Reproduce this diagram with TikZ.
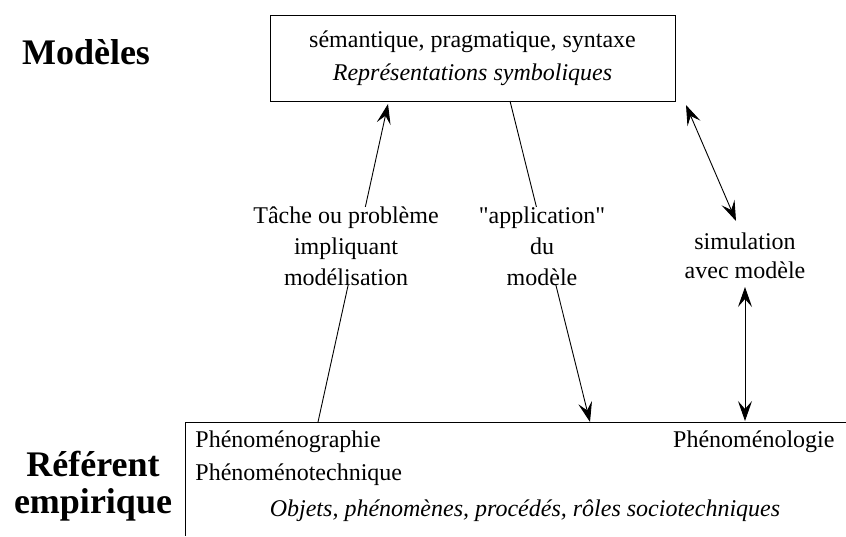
\documentclass[tikz,border=0pt]{standalone}
\usepackage{fontspec}
\setmainfont{Liberation Serif}[Ligatures=TeXOff]
\usetikzlibrary{arrows.meta,positioning}

\begin{document}
\begin{tikzpicture}[x=1pt,y=-1pt,line width=0.9pt,
  every node/.style={font=\fontsize{24}{31}\selectfont, inner sep=0pt},
  head/.style={font=\fontsize{36}{37}\selectfont\bfseries, align=center},
  lbl/.style={align=center, fill=white, inner sep=0pt},
  hd/.tip={Stealth[length=20pt,width=14pt,inset=8pt]},
  tip/.style={-hd}, dbl/.style={hd-hd}]
\useasboundingbox (0,0) rectangle (846,536);

\node[head] (mod) at (86,52) {Modèles};
\node[head] (emp) at (93,486) {Référent\\empirique};

\node[draw, minimum width=405pt, minimum height=86pt, align=center,
  font=\fontsize{24}{33}\selectfont] (sym) at (472.5,58)
  {sémantique, pragmatique, syntaxe\\\textit{Représentations symboliques}};

% referent (open frame)
\draw (846,422) -- (185,422) -- (185,536);
\node[anchor=west] (graph) at (195,442) {Phénoménographie};
\node[anchor=west] (tech) at (195,475) {Phénoménotechnique};
\node[anchor=east] (logie) at (835,442) {Phénoménologie};
\node[font=\fontsize{24}{31}\selectfont\itshape] (obj) at (525,511)
  {Objets, phénomènes, procédés, rôles sociotechniques};

% end points on the frames
\coordinate (tA) at (318,422);  \coordinate (tB) at (388,104);
\coordinate (aA) at (510,101);  \coordinate (aB) at (590,422);
\coordinate (sA) at (686,105);  \coordinate (sB) at (736,221);
\coordinate (sC) at (745,287);  \coordinate (sD) at (745,421);

\draw[tip] (tA) -- (tB);
\draw[tip] (aA) -- (aB);
\draw[dbl] (sA) -- (sB);
\draw[dbl] (sC) -- (sD);

\node[lbl] (tache) at (346,246) {Tâche ou problème\\impliquant\\modélisation};
\node[lbl] (appl) at (542,246) {"application"\\du\\modèle};
\node[align=center, font=\fontsize{24}{29}\selectfont] (simu) at (745,256)
  {simulation\\avec modèle};
\end{tikzpicture}
\end{document}
